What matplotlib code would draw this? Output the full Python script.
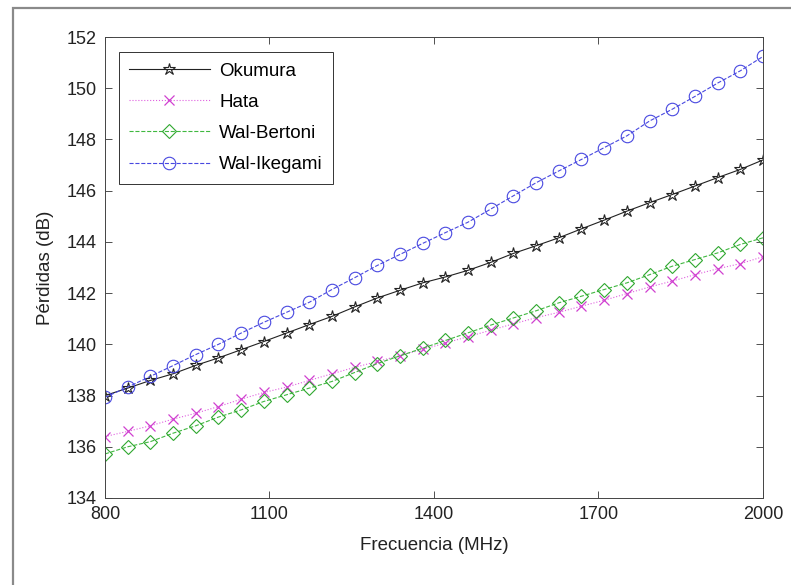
import numpy as np
import matplotlib.pyplot as plt
from matplotlib.patches import Rectangle

plt.rcParams['font.family'] = ['Liberation Sans', 'DejaVu Sans']

# 30 frequency samples between 800 and 2000 MHz
frecuencia = np.linspace(800, 2000, 30)

okumura = [138.00, 138.29, 138.59, 138.85, 139.18, 139.47, 139.79, 140.11, 140.44, 140.77,
           141.09, 141.46, 141.81, 142.11, 142.40, 142.63, 142.89, 143.20, 143.55, 143.85,
           144.16, 144.51, 144.85, 145.20, 145.53, 145.85, 146.18, 146.51, 146.83, 147.20]
hata = [136.40, 136.60, 136.82, 137.08, 137.31, 137.57, 137.86, 138.12, 138.33, 138.59,
        138.85, 139.10, 139.33, 139.56, 139.80, 140.05, 140.30, 140.55, 140.80, 141.04,
        141.25, 141.49, 141.72, 141.98, 142.24, 142.47, 142.72, 142.95, 143.15, 143.42]
bertoni = [135.72, 136.00, 136.20, 136.53, 136.82, 137.16, 137.44, 137.77, 138.03, 138.29,
           138.55, 138.90, 139.25, 139.55, 139.85, 140.15, 140.45, 140.75, 141.03, 141.31,
           141.62, 141.88, 142.14, 142.40, 142.72, 143.05, 143.31, 143.57, 143.90, 144.16]
ikegami = [137.93, 138.33, 138.75, 139.17, 139.60, 140.00, 140.44, 140.86, 141.25, 141.64,
           142.14, 142.60, 143.08, 143.51, 143.94, 144.36, 144.77, 145.28, 145.80, 146.31,
           146.77, 147.22, 147.68, 148.14, 148.72, 149.18, 149.68, 150.20, 150.68, 151.24]

fig = plt.figure(figsize=(7.91, 5.85), dpi=100)
ax = fig.add_axes([105 / 791, 87 / 585, 658 / 791, 461 / 585])

# outer frame of the original screenshot
fig.patches.append(Rectangle((13 / 791, -0.01), 1.0, 1.01 - 8 / 585, transform=fig.transFigure,
                             fill=False, edgecolor='#8a8a8a', linewidth=1.6))

ax.plot(frecuencia, okumura, '-', color='#222222', lw=0.8, marker='*', ms=9,
        mfc='none', mec='#222222', mew=0.8, label='Okumura')
ax.plot(frecuencia, hata, ':', color='#e060e0', lw=0.8, marker='x', ms=7,
        mec='#d040d0', mew=0.9, label='Hata')
ax.plot(frecuencia, bertoni, '--', color='#40b840', lw=0.8, marker='D', ms=7.5,
        mfc='none', mec='#30a830', mew=0.8, label='Wal-Bertoni')
ax.plot(frecuencia, ikegami, '--', color='#4848e0', lw=0.8, marker='o', ms=9,
        mfc='none', mec='#4848e0', mew=0.8, label='Wal-Ikegami')

ax.set_xlim(800, 2000)
ax.set_ylim(134, 152)
ax.set_xticks([800, 1100, 1400, 1700, 2000])
ax.set_yticks(np.arange(134, 153, 2))
ax.tick_params(direction='in', top=True, right=True, labelsize=13, length=5,
               width=0.6, colors='#333333', labelcolor='#222222')
ax.tick_params(axis='x', pad=6)
ax.tick_params(axis='y', pad=6)
for s in ax.spines.values():
    s.set_linewidth(0.7)
    s.set_color('#444444')

ax.set_xlabel('Frecuencia (MHz)', fontsize=13.5, color='#222222', labelpad=10)
ax.set_ylabel('Pérdidas (dB)', fontsize=13.5, color='#222222', labelpad=9)

leg = ax.legend(loc='upper left', bbox_to_anchor=(0.021, 0.967), borderaxespad=0,
                fontsize=13.5, handlelength=4.3, handletextpad=0.5, labelspacing=0.75,
                fancybox=False, edgecolor='#333333', framealpha=1, borderpad=0.55)
leg.get_frame().set_linewidth(0.7)

fig.savefig('out.png', dpi=100)
